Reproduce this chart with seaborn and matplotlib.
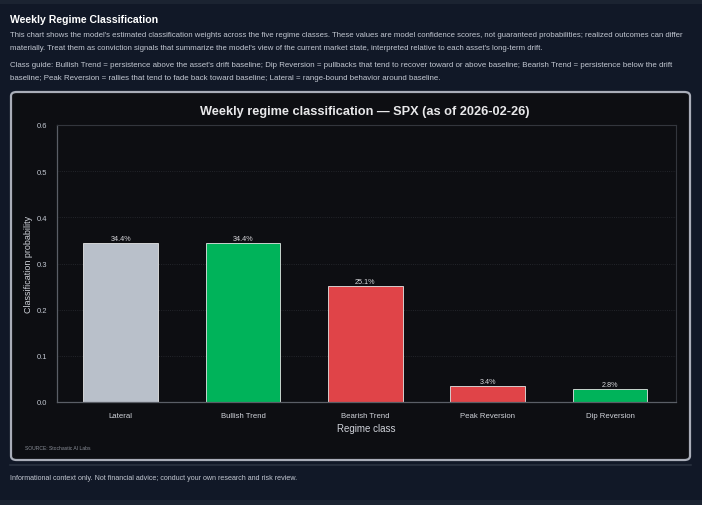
import pandas as pd
import matplotlib.pyplot as plt
import seaborn as sns
from matplotlib.patches import FancyBboxPatch, Rectangle
from matplotlib.lines import Line2D

regimes = ["Lateral", "Bullish Trend", "Bearish Trend", "Peak Reversion", "Dip Reversion"]
probs = [0.344, 0.344, 0.251, 0.034, 0.028]
bar_colors = ["#b9c0ca", "#00b35a", "#e04448", "#e04448", "#00b35a"]
y_ticks = [0.0, 0.1, 0.2, 0.3, 0.4, 0.5, 0.6]

header = "Weekly Regime Classification"
desc = ("This chart shows the model's estimated classification weights across the five regime classes. "
        "These values are model confidence scores, not guaranteed probabilities; realized outcomes can differ\n"
        "materially. Treat them as conviction signals that summarize the model's view of the current market state, "
        "interpreted relative to each asset's long-term drift.")
guide = ("Class guide: Bullish Trend = persistence above the asset's drift baseline; Dip Reversion = pullbacks that "
         "tend to recover toward or above baseline; Bearish Trend = persistence below the drift\n"
         "baseline; Peak Reversion = rallies that tend to fade back toward baseline; Lateral = range-bound behavior "
         "around baseline.")
footer = "Informational context only. Not financial advice; conduct your own research and risk review."

df = pd.DataFrame({"regime": regimes, "prob": probs})

sns.set_theme(style="dark")
plt.rcParams["font.family"] = ["Liberation Sans", "DejaVu Sans"]

W, H = 702, 506
fig = plt.figure(figsize=(W / 100, H / 100), dpi=100)
fig.patch.set_facecolor("#1b2331")


def fy(py):
    return 1 - py / H


def fx(px):
    return px / W


# card background
fig.patches.append(Rectangle((0, fy(501)), 1, fy(5) - fy(501), transform=fig.transFigure,
                             facecolor="#111827", edgecolor="none", zorder=0))

fig.text(fx(10), fy(20), header, fontsize=7.6, fontweight="bold", color="white", va="center")
fig.text(fx(10), fy(42), desc, fontsize=5.55, color="#c3c8d2", va="center", linespacing=2.1)
fig.text(fx(10), fy(72), guide, fontsize=5.65, color="#c3c8d2", va="center", linespacing=2.1)

# chart panel
fig.patches.append(FancyBboxPatch((fx(11), fy(461)), fx(690) - fx(11), fy(93) - fy(461),
                                  boxstyle="round,pad=0,rounding_size=0.008",
                                  transform=fig.transFigure, facecolor="#0d0e12",
                                  edgecolor="#a9adb8", linewidth=1.6, zorder=1))
fig.lines.append(Line2D([fx(10), fx(691)], [fy(466), fy(466)], transform=fig.transFigure,
                        color="#252d3b", linewidth=1.5))
fig.text(fx(10), fy(479), footer, fontsize=5.15, color="#c3c8d2", va="center")

fig.text(fx(365), fy(112), "Weekly regime classification \u2014 SPX (as of 2026-02-26)",
         fontsize=9.2, fontweight="bold", color="#e8e8ea", ha="center", va="center")
fig.text(fx(25), fy(449), "SOURCE: Stochastic AI Labs", fontsize=3.6, color="#8a8e98", va="center")

ax = fig.add_axes([fx(57), fy(403), fx(676) - fx(57), fy(126) - fy(403)])
ax.set_facecolor("#0d0e12")
ax.set_zorder(2)

sns.barplot(data=df, x="regime", y="prob", hue="regime", palette=dict(zip(regimes, bar_colors)),
            legend=False, saturation=1, width=0.61, edgecolor="#e6e6e6", linewidth=0.6, ax=ax)

for bar, v in zip(ax.patches, probs):
    ax.text(bar.get_x() + bar.get_width() / 2, v + 0.002, f"{v * 100:.1f}%",
            ha="center", va="bottom", fontsize=5.2, color="#d8d8dc")

ax.set_xlim(-0.52, 4.54)
ax.set_ylim(0, 0.6)
ax.set_yticks(y_ticks)
ax.set_yticklabels([f"{t:.1f}" for t in y_ticks])
ax.tick_params(axis="y", labelsize=5.5, colors="#c3c8d2", length=0, pad=7)
ax.tick_params(axis="x", labelsize=5.6, colors="#d0d3da", length=0, pad=7)
ax.set_xlabel("Regime class", fontsize=7.0, color="#d0d3da", labelpad=3)
ax.set_ylabel("Classification probability", fontsize=6.5, color="#d0d3da", labelpad=3)
ax.grid(axis="y", color="#2a2d33", linestyle=":", linewidth=0.6)
ax.grid(axis="x", visible=False)
for side in ["left", "bottom"]:
    ax.spines[side].set_color("#5a5e66")
    ax.spines[side].set_linewidth(0.9)
for side in ["top", "right"]:
    ax.spines[side].set_color("#33363d")
    ax.spines[side].set_linewidth(0.8)
    ax.spines[side].set_visible(True)

fig.savefig("out.png", dpi=100, facecolor=fig.get_facecolor())
